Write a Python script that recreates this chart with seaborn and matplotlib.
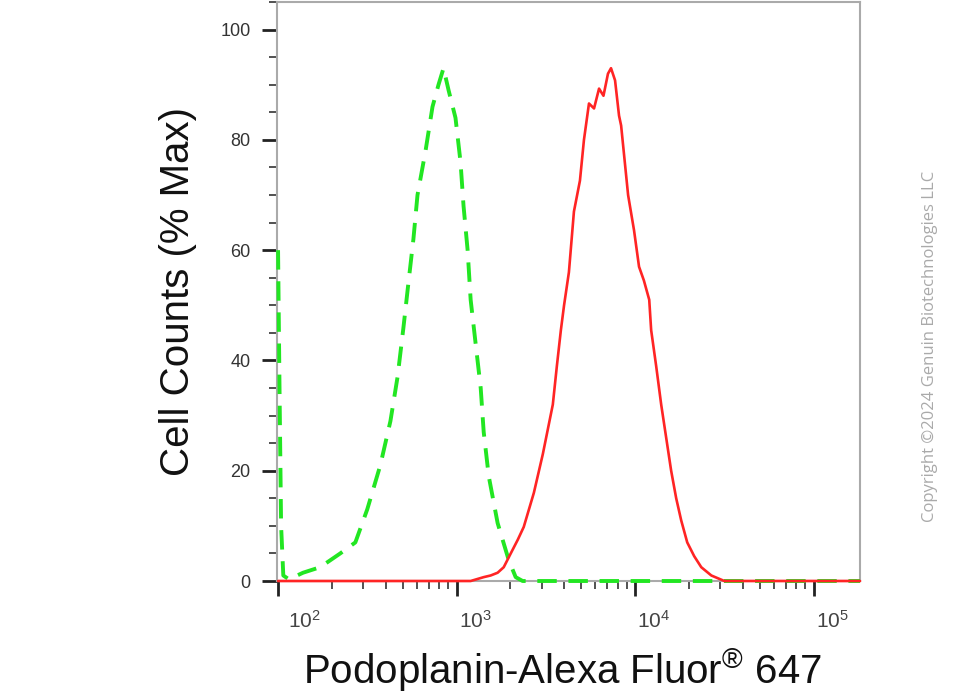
import numpy as np
import pandas as pd
import matplotlib
matplotlib.use("Agg")
import matplotlib.pyplot as plt
import seaborn as sns
from matplotlib.ticker import LogLocator, FixedLocator, NullFormatter, MultipleLocator
from matplotlib.transforms import ScaledTranslation

# ---- data ----
control_x = [100, 101.9, 104, 107, 115, 138, 172, 223, 271, 316, 374, 426, 467, 504, 537,
             573, 604, 670, 733, 792, 845, 902, 986, 1052, 1094, 1153, 1199, 1279, 1365,
             1419, 1514, 1698, 1959, 2143, 2344, 5000, 20000, 100000, 182000]
control_y = [60, 35, 10, 1, 0.3, 1.5, 2.5, 5, 7, 13, 21, 29, 37, 46, 54,
             62, 70, 78, 86, 90, 93, 89, 84, 76, 68, 60, 51, 43, 35,
             27, 19, 10.5, 3.8, 0.7, 0, 0, 0, 0, 0]

sample_x = [100, 1199, 1419, 1552, 1698, 1837, 2011, 2203, 2378, 2710, 3041, 3460, 3646,
            3839, 4000, 4258, 4543, 4909, 5170, 5516, 5888, 6281, 6650, 7047, 7330,
            7721, 8128, 8350, 9137, 9863, 10520, 11200, 12000, 12300, 13120, 14000,
            14930, 15920, 16990, 18120, 19590, 21430, 23480, 26730, 31620, 100000, 182000]
sample_y = [0, 0, 0.7, 1.0, 1.5, 2.5, 5, 7.5, 9.8, 16, 23, 32, 39,
            45.5, 50, 56, 67, 72.6, 80, 86.6, 85.7, 89.3, 88, 92, 93,
            90.8, 84.4, 82.6, 70, 63.6, 57, 54.5, 51, 45.5, 39, 32,
            26, 20, 15, 11, 7, 4.5, 2.5, 1.0, 0, 0, 0]

x_ticks = [1e2, 1e3, 1e4, 1e5]
y_ticks = [0, 20, 40, 60, 80, 100]
x_label = "Podoplanin-Alexa Fluor$^{®}$ 647"
y_label = "Cell Counts (% Max)"
watermark = "Copyright ©2024 Genuin Biotechnologies LLC"

control = pd.DataFrame({"x": control_x, "y": control_y})
sample = pd.DataFrame({"x": sample_x, "y": sample_y})

sns.set_theme(style="ticks")
plt.rcParams["font.family"] = ["Liberation Sans", "DejaVu Sans"]
plt.rcParams["mathtext.fontset"] = "custom"
plt.rcParams["mathtext.rm"] = "Liberation Sans"
plt.rcParams["mathtext.default"] = "regular"

fig = plt.figure(figsize=(9.8, 7.0), dpi=100)
ax = fig.add_axes([0.2827, 0.17, 0.5949, 0.8271])
ax.set_xscale("log")

sns.lineplot(data=control, x="x", y="y", ax=ax, color="#22e622", lw=2.8,
             linestyle=(0, (5, 3)), estimator=None, sort=False, clip_on=False, zorder=3)
sns.lineplot(data=sample, x="x", y="y", ax=ax, color="#ff2424", lw=1.9,
             estimator=None, sort=False, clip_on=False, zorder=4)

ax.set_xlim(98.7, 182000)
ax.set_ylim(0, 105)

ax.xaxis.set_major_locator(FixedLocator(x_ticks))
ax.xaxis.set_minor_locator(LogLocator(base=10, subs=np.arange(2, 10)))
ax.xaxis.set_minor_formatter(NullFormatter())
ax.set_yticks(y_ticks)
ax.yaxis.set_minor_locator(MultipleLocator(5))

for s in ax.spines.values():
    s.set_color("#aaaaaa")
    s.set_linewidth(1.5)
    s.set_visible(True)

ax.tick_params(axis="both", which="major", length=11, width=2, color="#222222",
               labelsize=13, labelcolor="#333333")
ax.tick_params(axis="both", which="minor", length=6, width=1.1, color="#222222")
ax.tick_params(axis="y", which="major", pad=8)
ax.tick_params(axis="x", which="major", pad=10, labelsize=15, labelcolor="#444444")

fig.canvas.draw()
for i, lab in enumerate(ax.get_xticklabels()):
    shift = 7.5 if i == 0 else 1.5
    lab.set_horizontalalignment("left")
    lab.set_transform(lab.get_transform() + ScaledTranslation(shift / 72, 0, fig.dpi_scale_trans))

ax.set_xlabel(x_label, fontsize=29, color="#111111")
ax.xaxis.set_label_coords(0.489, -0.113)
ax.set_ylabel(y_label, fontsize=29, color="#111111", labelpad=17)

fig.text(0.949, 0.505, watermark, rotation=90, ha="center", va="center",
         fontsize=12, color="#aaaaaa", family=["Open Sans", "DejaVu Sans"])

fig.savefig("out.png", dpi=100, facecolor="white")
